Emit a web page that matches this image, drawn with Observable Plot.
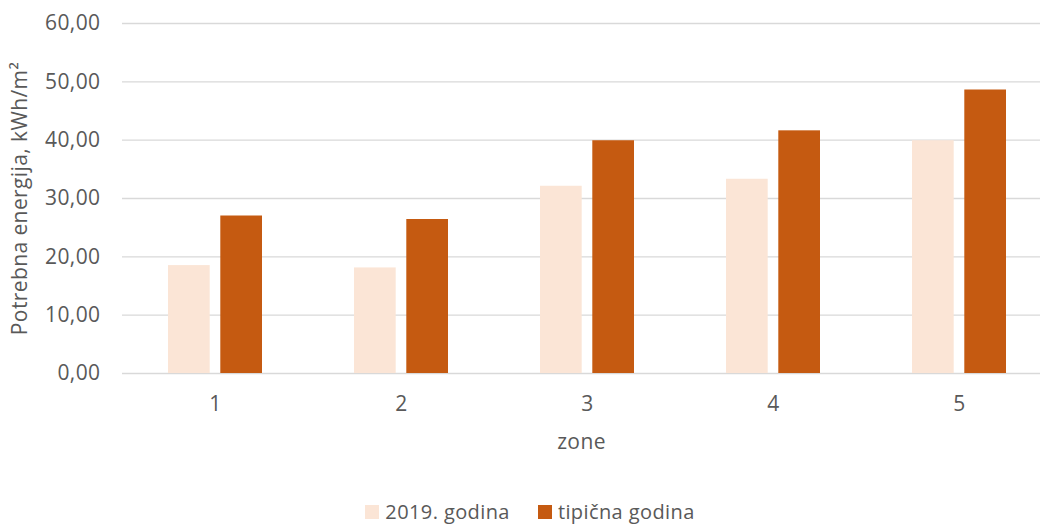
<!DOCTYPE html>
<html>
<head>
<meta charset="utf-8">
<script src="https://cdn.jsdelivr.net/npm/d3@7"></script>
<script src="https://cdn.jsdelivr.net/npm/@observablehq/plot@0.6"></script>
<style>
  html, body { margin: 0; padding: 0; background: #fff; }
  #chart { width: 1040px; }
  .legend { width: 1040px; height: 54px; box-sizing: border-box; padding-top: 30px; padding-left: 20px; display: flex; justify-content: center; gap: 28px; font-family: "Open Sans", sans-serif; font-size: 20px; letter-spacing: 0.4px; color: #595959; line-height: 22px; }
  .legend span.item { display: inline-flex; align-items: center; white-space: nowrap; }
  .legend span.sw { display: inline-block; width: 14px; height: 14px; margin-right: 6px; }
</style>
</head>
<body>
<div id="chart"></div>
<script>
const zones = ["1", "2", "3", "4", "5"];
const seriesNames = ["2019. godina", "tipična godina"];
const godina2019 = [18.5, 18.1, 32.1, 33.3, 39.9];
const tipicnaGodina = [27.0, 26.4, 39.9, 41.6, 48.6];
const yTicks = [0, 10, 20, 30, 40, 50, 60];
const colors = ["#fbe5d6", "#c55a11"];
const yLabel = "Potrebna energija, kWh/m²";
const xLabel = "zone";

const rows2019 = zones.map((z, i) => ({zone: z, value: godina2019[i]}));
const rowsTip = zones.map((z, i) => ({zone: z, value: tipicnaGodina[i]}));

const W = 1040, H = 470, ML = 122, MT = 23, MB = 97;
const pad = 0.493;
const xRange = [ML, 1052];
const band = (xRange[1] - xRange[0]) / zones.length * (1 - pad);
const barW = 42;
const fmt = d => d.toFixed(2).replace(".", ",");

const plot = Plot.plot({
  width: W,
  height: H,
  marginLeft: ML,
  marginRight: 0,
  marginTop: MT,
  marginBottom: MB,
  style: {fontFamily: "Open Sans, sans-serif", fontSize: "21px", letterSpacing: "0.4px", color: "#595959", background: "#fff"},
  x: {domain: zones, range: xRange, paddingInner: pad, paddingOuter: pad / 2, align: 0.5},
  y: {domain: [0, 60]},
  marks: [
    Plot.ruleY(yTicks, {stroke: "#d9d9d9", strokeWidth: 1.4}),
    Plot.barY(rows2019, {x: "zone", y: "value", fill: colors[0], insetRight: band - barW}),
    Plot.barY(rowsTip, {x: "zone", y: "value", fill: colors[1], insetLeft: band - barW}),
    Plot.axisY({ticks: yTicks, tickFormat: fmt, tickSize: 0, tickPadding: 22, label: yLabel, labelAnchor: "center", labelOffset: 110, labelArrow: "none", fill: "#595959"}),
    Plot.axisX({tickSize: 0, tickPadding: 23, label: xLabel, labelAnchor: "center", labelOffset: 75, labelArrow: "none", fill: "#595959"})
  ]
});
document.getElementById("chart").appendChild(plot);

const legend = document.createElement("div");
legend.className = "legend";
seriesNames.forEach((name, i) => {
  const item = document.createElement("span");
  item.className = "item";
  const sw = document.createElement("span");
  sw.className = "sw";
  sw.style.background = colors[i];
  item.appendChild(sw);
  item.appendChild(document.createTextNode(name));
  legend.appendChild(item);
});
document.body.appendChild(legend);
</script>
</body>
</html>
